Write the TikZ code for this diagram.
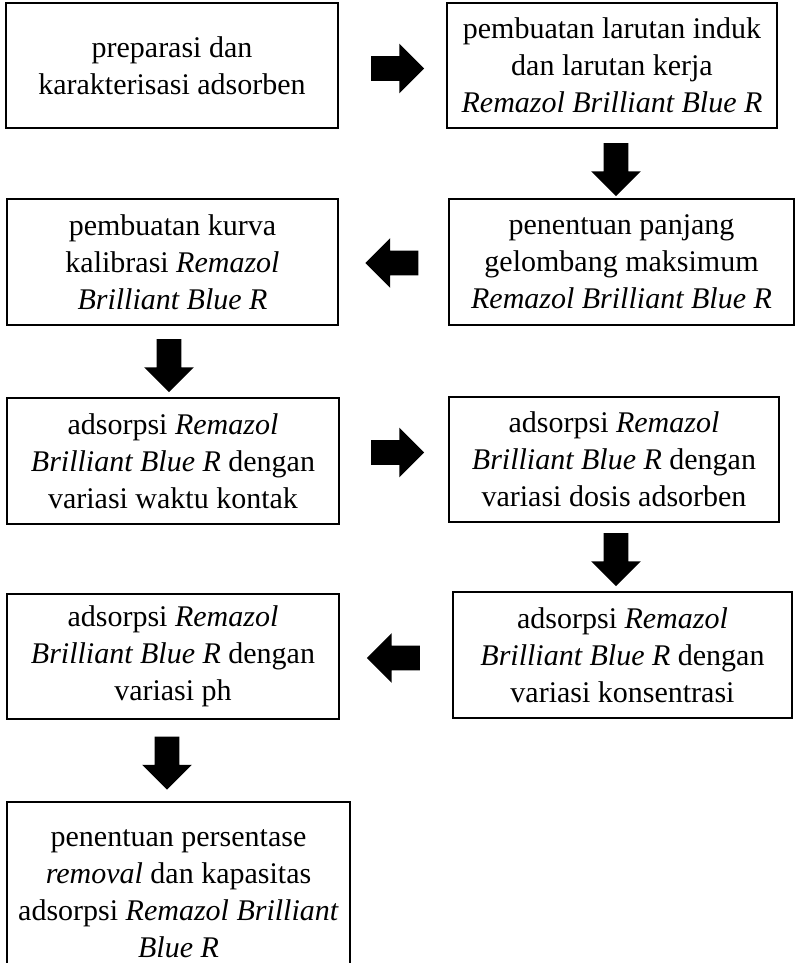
\documentclass[tikz,border=0pt]{standalone}
\usepackage{fontspec}
\setmainfont{Liberation Serif}
\usetikzlibrary{shapes.arrows}

\tikzset{
  stepbox/.style={draw, line width=1.4pt, align=center, inner sep=0pt,
    font=\fontsize{22.5}{27.75}\selectfont},
  boxsize/.style 2 args={minimum width=#1*0.75pt, minimum height=#2*0.75pt},
  blkarrow/.style={single arrow, fill=black, draw=none, inner sep=9pt,
    minimum width=36.75pt, minimum height=39.75pt,
    single arrow head extend=9.375pt, single arrow tip angle=90,
    shape border rotate=#1},
}

\begin{document}
\begin{tikzpicture}[x=0.75pt, y=-0.75pt]
  \useasboundingbox (0,0) rectangle (796,963);
  \clip (0,0) rectangle (796,963);

  \node[stepbox, boxsize={332}{125}] (prep) at (172,65.5)
    {preparasi dan\\karakterisasi adsorben};
  \node[stepbox, boxsize={330}{125}] (larutan) at (612,65.5)
    {pembuatan larutan induk\\dan larutan kerja\\\textit{Remazol Brilliant Blue R}};
  \node[stepbox, boxsize={345}{126}] (lamda) at (621.5,262)
    {penentuan panjang\\gelombang maksimum\\\textit{Remazol Brilliant Blue R}};
  \node[stepbox, boxsize={331}{126}] (kurva) at (172.5,262)
    {pembuatan kurva\\kalibrasi \textit{Remazol}\\\textit{Brilliant Blue R}};
  \node[stepbox, boxsize={332}{126}] (waktu) at (173,461)
    {adsorpsi \textit{Remazol}\\\textit{Brilliant Blue R} dengan\\variasi waktu kontak};
  \node[stepbox, boxsize={330}{125}] (dosis) at (614,459.5)
    {adsorpsi \textit{Remazol}\\\textit{Brilliant Blue R} dengan\\variasi dosis adsorben};
  \node[stepbox, boxsize={339}{126}] (konsen) at (622.5,655)
    {adsorpsi \textit{Remazol}\\\textit{Brilliant Blue R} dengan\\variasi konsentrasi};
  \node[stepbox, boxsize={332}{125}] (ph) at (173,656.5)
    {adsorpsi \textit{Remazol}\\\textit{Brilliant Blue R} dengan\\variasi ph};
  \node[stepbox, boxsize={343}{184}] (removal) at (178.5,894)
    {penentuan persentase\\\textit{removal} dan kapasitas\\adsorpsi \textit{Remazol Brilliant}\\\textit{Blue R}};

  \node[blkarrow=0] (a1) at (391.5,68.5) {};
  \node[blkarrow=270] (a2) at (616,163.5) {};
  \node[blkarrow=180] (a3) at (398,263) {};
  \node[blkarrow=270] (a4) at (169,359.5) {};
  \node[blkarrow=0] (a5) at (391.5,452.5) {};
  \node[blkarrow=270] (a6) at (616,553.5) {};
  \node[blkarrow=180] (a7) at (399.5,658) {};
  \node[blkarrow=270] (a8) at (167,757) {};
\end{tikzpicture}
\end{document}
